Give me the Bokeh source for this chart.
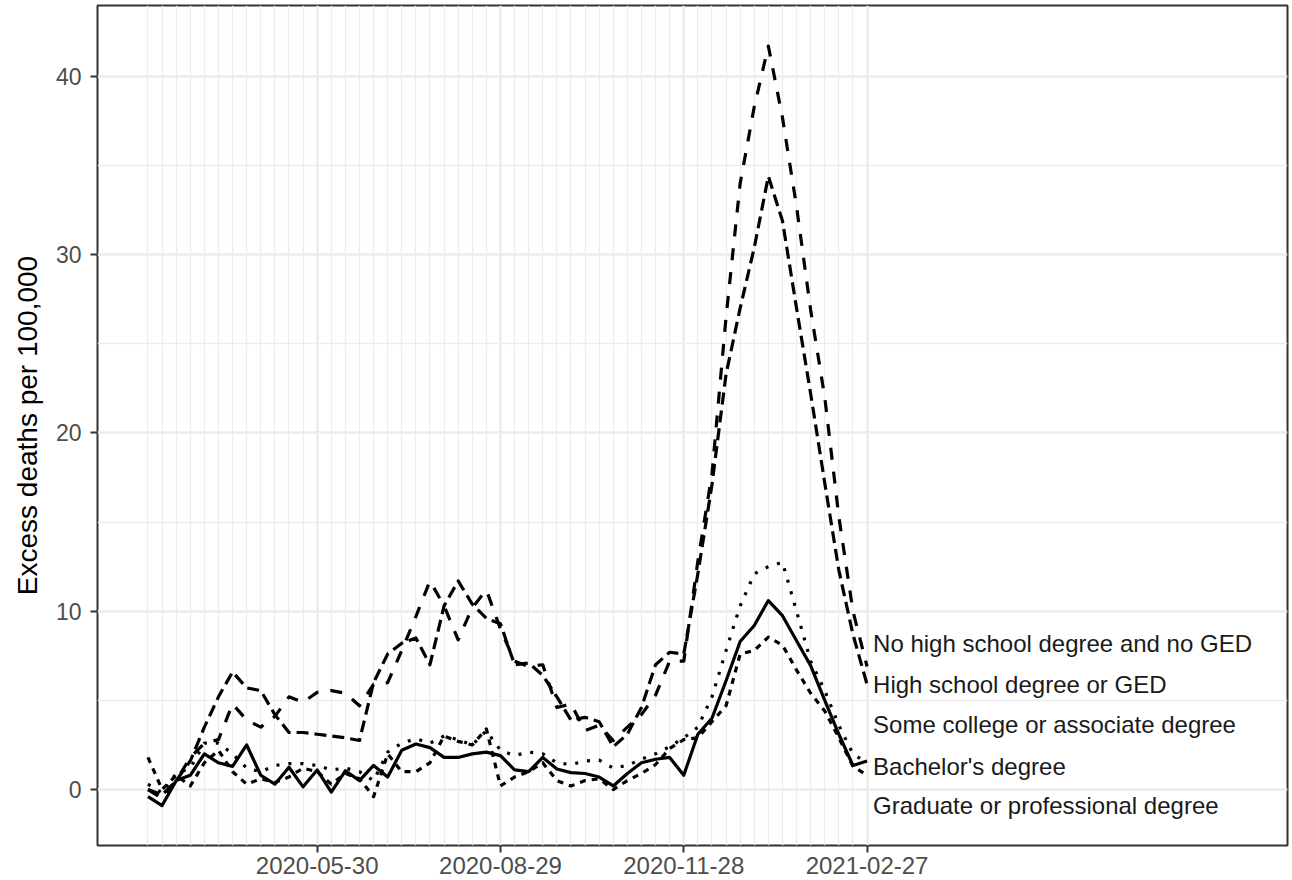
import pandas as pd
from bokeh.plotting import figure
from bokeh.models import Range1d, FixedTicker, DatetimeTickFormatter
from bokeh.embed import file_html
from bokeh.resources import INLINE
from bokeh.core.properties import value

# ---------------- data ----------------
start_date = "2020-03-07"
n_weeks = 52
dates = pd.date_range(start_date, periods=n_weeks, freq="7D")

tick_dates = ["2020-05-30", "2020-08-29", "2020-11-28", "2021-02-27"]
y_ticks = [0, 10, 20, 30, 40]
y_minor_ticks = [5, 15, 25, 35]

series_names = [
    "Bachelor's degree",
    "Graduate or professional degree",
    "High school degree or GED",
    "No high school degree and no GED",
    "Some college or associate degree",
]

bachelors = [-0.4, -0.9, 0.5, 0.8, 2.0, 1.5, 1.3, 2.5, 0.8, 0.3, 1.25, 0.15, 1.1,
             -0.15, 1.05, 0.5, 1.35, 0.7, 2.2, 2.55, 2.35, 1.8, 1.8, 2.0, 2.1, 1.9,
             1.1, 1.0, 1.8, 1.15, 0.95, 0.9, 0.7, 0.2, 0.9, 1.5, 1.7, 1.8, 0.8,
             3.1, 4.0, 6.1, 8.3, 9.2, 10.6, 9.75, 8.35, 6.95, 5.0, 3.1, 1.35, 1.6]

graduate = [1.8, 0.0, 0.8, 0.2, 1.5, 2.2, 1.0, 0.3, 0.6, 0.4, 0.7, 1.2, 1.0,
            0.3, 0.9, 0.6, -0.4, 2.0, 1.0, 1.0, 1.5, 3.0, 2.7, 2.5, 3.4, 0.2,
            0.7, 1.0, 1.5, 0.5, 0.2, 0.5, 0.6, 0.0, 0.5, 0.9, 1.4, 2.3, 2.8,
            2.9, 3.8, 4.7, 7.6, 7.8, 8.55, 8.1, 6.7, 5.4, 4.4, 2.9, 1.3, 0.8]

high_school = [0.0, -0.3, 0.5, 1.6, 3.5, 5.2, 6.6, 5.7, 5.55, 4.2, 3.2, 3.2, 3.1,
               3.0, 2.9, 2.75, 6.0, 7.6, 8.2, 8.5, 7.0, 10.3, 11.7, 10.4, 9.6, 9.3,
               7.0, 7.1, 6.4, 5.2, 3.9, 4.05, 3.8, 2.4, 3.1, 4.6, 7.0, 7.7, 7.6,
               12.1, 17.1, 23.3, 27.0, 30.4, 34.4, 31.9, 27.0, 22.2, 17.2, 12.3, 8.7, 5.9]

no_high_school = [0.0, -0.5, 0.5, 1.8, 2.6, 2.8, 4.8, 3.9, 3.5, 4.1, 5.2, 4.9, 5.45,
                  5.55, 5.4, 4.7, 5.9, 6.0, 7.8, 9.7, 11.7, 10.3, 8.4, 10.2, 11.2, 9.0,
                  7.2, 6.9, 7.0, 4.6, 4.8, 3.3, 3.6, 2.75, 3.5, 4.2, 5.3, 7.2, 7.2,
                  12.8, 17.7, 26.5, 34.0, 38.3, 41.7, 37.7, 32.7, 26.9, 22.0, 15.3, 10.0, 6.9]

some_college = [0.3, -0.2, 0.9, 1.2, 2.6, 2.6, 2.0, 1.2, 1.0, 1.35, 1.45, 1.45, 1.35,
                1.1, 1.2, 1.0, 0.5, 2.1, 2.6, 2.85, 2.6, 3.0, 2.8, 2.5, 3.3, 2.2,
                1.9, 2.1, 2.0, 1.5, 1.4, 1.6, 1.65, 1.2, 1.35, 1.7, 2.0, 2.4, 2.9,
                3.5, 5.2, 7.8, 10.3, 12.1, 12.5, 12.75, 10.0, 7.2, 5.55, 3.6, 2.0, 1.5]

series_values = [bachelors, graduate, high_school, no_high_school, some_college]

# label order (top to bottom) at right end of lines
label_names = [
    "No high school degree and no GED",
    "High school degree or GED",
    "Some college or associate degree",
    "Bachelor's degree",
    "Graduate or professional degree",
]

# ---------------- layout / style ----------------
label_y = [8.2, 5.9, 3.65, 1.3, -0.9]
line_dashes = ["solid", "6 6", "12 6", "12 12", "3 9"]
x_pad_left_weeks = 3.58
x_pad_right_weeks = 29.82

FONT = "Liberation Sans"


def ms(ts):
    return pd.Timestamp(ts).timestamp() * 1000.0


week_ms = 7 * 86400000.0
x_start = ms(dates[0]) - x_pad_left_weeks * week_ms
x_end = ms(dates[-1]) + x_pad_right_weeks * week_ms

p = figure(
    width=1292, height=880,
    x_axis_type="datetime",
    x_range=Range1d(x_start, x_end),
    y_range=Range1d(-3.14, 43.98),
    output_backend="svg",
    toolbar_location=None,
    min_border_left=97, min_border_right=5, min_border_top=5, min_border_bottom=35,
)
p.background_fill_color = "white"
p.border_fill_color = "white"
p.outline_line_color = "#333333"
p.outline_line_width = 2

major_ms = [ms(d) for d in tick_dates]
minor_ms = [ms(d) for d in dates if ms(d) not in major_ms]
p.xaxis.ticker = FixedTicker(ticks=major_ms, minor_ticks=minor_ms)
p.xaxis.formatter = DatetimeTickFormatter(
    milliseconds="%Y-%m-%d", seconds="%Y-%m-%d", minsec="%Y-%m-%d",
    minutes="%Y-%m-%d", hourmin="%Y-%m-%d", hours="%Y-%m-%d",
    days="%Y-%m-%d", months="%Y-%m-%d", years="%Y-%m-%d",
)
p.yaxis.ticker = FixedTicker(ticks=y_ticks, minor_ticks=y_minor_ticks)

for ax in (p.xaxis, p.yaxis):
    ax.axis_line_color = None
    ax.major_tick_line_color = "#333333"
    ax.major_tick_line_width = 2
    ax.major_tick_out = 7
    ax.major_tick_in = 0
    ax.minor_tick_line_color = None
    ax.major_label_text_font = FONT
    ax.major_label_text_color = "#4D4D4D"

p.xaxis.major_label_text_font_size = "24px"
p.yaxis.major_label_text_font_size = "23px"
p.xaxis.major_label_standoff = 4
p.yaxis.major_label_standoff = 9
p.yaxis.axis_label = "Excess deaths per 100,000"
p.yaxis.axis_label_text_font = FONT
p.yaxis.axis_label_text_font_size = "28px"
p.yaxis.axis_label_text_font_style = "normal"
p.yaxis.axis_label_text_color = "black"
p.yaxis.axis_label_standoff = 10

for g in (p.xgrid, p.ygrid):
    g.grid_line_color = "#EBEBEB"
    g.grid_line_width = 2.4
    g.minor_grid_line_color = "#EDEDED"
    g.minor_grid_line_width = 1.3

for vals, dash in zip(series_values, line_dashes):
    p.line(x=list(dates), y=vals, line_color="black", line_width=3.2,
           line_dash=dash, line_join="round", line_cap="butt")

p.text(x=[dates[-1]] * len(label_names), y=label_y, text=label_names,
       x_offset=6, text_align="left", text_baseline="middle",
       text_font=value(FONT), text_font_size="24px", text_color="#1A1A1A")

open("out.html", "w").write(file_html(p, INLINE))
